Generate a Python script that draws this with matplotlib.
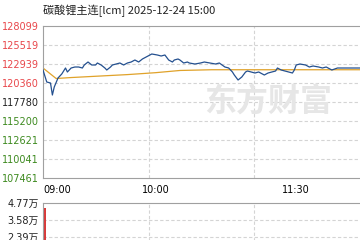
import matplotlib
matplotlib.use("Agg")
import matplotlib.pyplot as plt

plt.rcParams['font.family'] = ['DejaVu Sans', 'Noto Sans CJK SC']

title = "碳酸锂主连[lcm] 2025-12-24 15:00"

# minute index from 09:00 (trading minutes), price
minutes = [0, 2, 4, 5, 6, 8, 10, 12, 13, 15, 17, 19, 21, 22, 24, 26, 28, 29, 31, 33,
           34, 36, 37, 39, 41, 43, 45, 47, 49, 51, 53, 55, 58, 61, 63, 65, 67, 69, 70, 72,
           73, 75, 77, 78, 81, 84, 86, 89, 92, 94, 97, 99, 101, 102, 104, 106, 108, 109, 111, 113,
           115, 117, 118, 120, 122, 124, 125, 127, 129, 131, 133, 134, 135, 137, 140, 142, 144, 147, 149, 151,
           154, 157, 159, 162, 165, 167, 169]
price = [122124, 120495, 120359, 118729, 119816, 121038, 121581, 122396, 121853, 122396,
         122532, 122532, 122396, 122803, 123210, 122803, 122803, 123075, 122803, 122396,
         122124, 122532, 122803, 122939, 123075, 122803, 123075, 123210, 123482, 123210,
         123618, 123890, 124297, 124161, 124025, 124161, 123482, 123210, 123482, 123618,
         123482, 123075, 123210, 123075, 122939, 123075, 123210, 123075, 122939, 123075,
         122532, 122396, 121853, 121445, 120766, 121174, 121853, 121988, 121853, 121717,
         121853, 121581, 121445, 121717, 121853, 121988, 122396, 122124, 121988, 121853,
         121717, 122124, 122803, 122939, 122803, 122532, 122668, 122532, 122396, 122532,
         122124, 122396, 122396, 122396, 122396, 122396, 122396]

avg_minutes = [0, 7, 15, 30, 45, 60, 73, 90, 169]
avg_price = [122396, 120970, 121100, 121300, 121500, 121760, 122060, 122160, 122160]

vol_minutes = [1]
volume = [4.42]  # 万手

price_ticks = [107461, 110041, 112621, 115200, 117780, 120360, 122939, 125519, 128099]
pre_settle = 117780
vol_ticks = [2.39, 3.58, 4.77]
time_ticks = [0, 60, 135]
time_labels = ["09:00", "10:00", "11:30"]
total_minutes = 225

W, H = 360, 240
fig = plt.figure(figsize=(3.6, 2.4), dpi=100)
fig.patch.set_facecolor('white')

border = '#a0a0a0'
gridc = '#d4d4d4'
red = '#e8464a'
green = '#3d8a1f'

# price panel (extends past the right edge of the image)
ax = fig.add_axes([43 / W, 1 - 178 / H, 422 / W, 152 / H])
ax.plot(minutes, price, color='#24508f', lw=0.9, zorder=3)
ax.plot(avg_minutes, avg_price, color='#e0a22a', lw=0.9, zorder=2)
ax.set_xlim(0, total_minutes)
ax.set_ylim(price_ticks[0], price_ticks[-1])
ax.set_yticks(price_ticks)
ax.set_yticklabels([str(v) for v in price_ticks])
for lab, v in zip(ax.get_yticklabels(), price_ticks):
    lab.set_color(red if v > pre_settle else (green if v < pre_settle else '#222222'))
ax.set_xticks(time_ticks)
ax.set_xticklabels(time_labels)
ax.get_xticklabels()[0].set_ha('left')
ax.tick_params(axis='both', length=0, labelsize=7)
ax.tick_params(axis='y', pad=3)
ax.tick_params(axis='x', pad=5)
for v in price_ticks[1:-1]:
    ax.axhline(v, color=gridc, lw=0.8, ls=(0, (3, 2)), zorder=1)
for q in (0.25, 0.5):
    ax.axvline(total_minutes * q, color=gridc, lw=0.8, ls=(0, (3, 2)), zorder=1)
for s in ax.spines.values():
    s.set_color(border)
    s.set_linewidth(0.8)

fig.text(268 / W, 1 - 103 / H, "东方财富", fontsize=23, fontweight='bold',
         color='#e6e6e6', ha='center', va='center', family=['Noto Sans CJK SC'], zorder=0)

ax.text(0, 1.06, title, transform=ax.transAxes, fontsize=8, color='#222222',
        ha='left', va='bottom', family=['Noto Sans CJK SC', 'DejaVu Sans'])

# volume panel
axv = fig.add_axes([43 / W, 1 - 271 / H, 422 / W, 68 / H])
axv.bar(vol_minutes, volume, width=0.8, color='#d83a3a')
axv.set_xlim(0, total_minutes)
axv.set_ylim(0, vol_ticks[-1])
axv.set_yticks(vol_ticks)
axv.set_yticklabels([f"{v:.2f}万" for v in vol_ticks])
axv.set_xticks([])
axv.tick_params(axis='y', length=0, labelsize=7, pad=3, labelcolor='#222222')
for v in vol_ticks[:-1]:
    axv.axhline(v, color=gridc, lw=0.8, ls=(0, (3, 2)), zorder=0)
for q in (0.25, 0.5):
    axv.axvline(total_minutes * q, color=gridc, lw=0.8, ls=(0, (3, 2)), zorder=0)
for s in axv.spines.values():
    s.set_color(border)
    s.set_linewidth(0.8)

fig.savefig("out.png", dpi=100)
